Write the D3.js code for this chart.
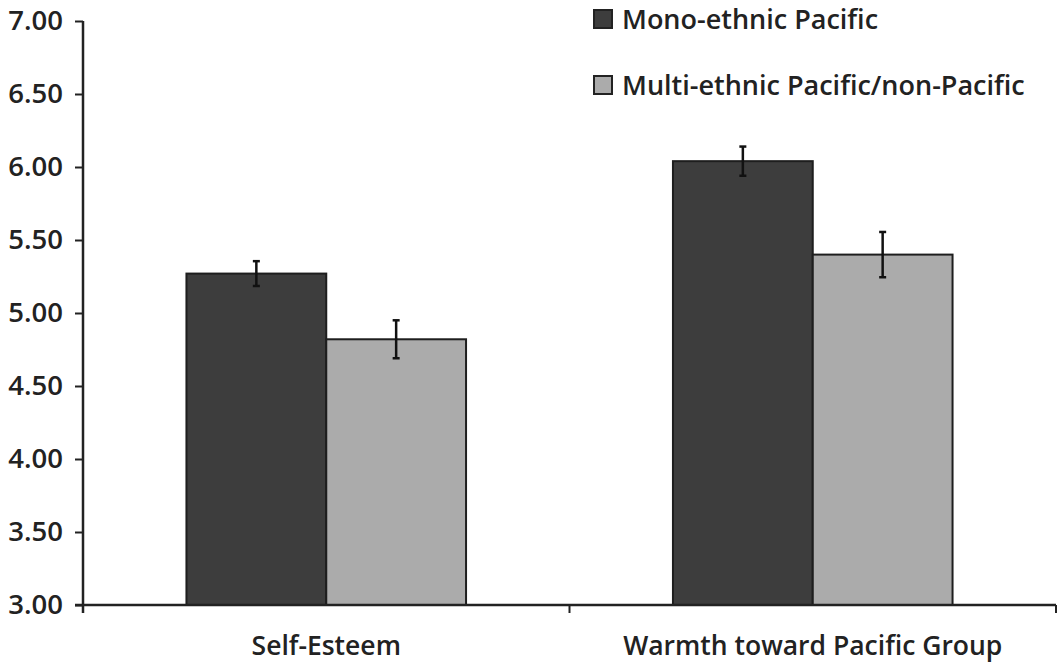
<!DOCTYPE html>
<html>
<head>
<meta charset="utf-8">
<script src="https://cdn.jsdelivr.net/npm/d3@7"></script>
<style>
  html, body { margin: 0; padding: 0; background: #fff; }
  svg { display: block; }
  text { font-family: "Open Sans", "DejaVu Sans", sans-serif; fill: #222; font-weight: 600; }
</style>
</head>
<body>
<svg id="chart" width="1058" height="662"></svg>
<script>
// Mean ratings with standard errors, by outcome and ethnic group
const categories = ["Self-Esteem", "Warmth toward Pacific Group"];
const seriesNames = ["Mono-ethnic Pacific", "Multi-ethnic Pacific/non-Pacific"];
const monoMeans = [5.27, 6.04];
const multiMeans = [4.82, 5.40];
const monoErrors = [0.085, 0.10];
const multiErrors = [0.13, 0.155];
const yTicks = [3.0, 3.5, 4.0, 4.5, 5.0, 5.5, 6.0, 6.5, 7.0];

const seriesFill = ["#3d3d3d", "#ababab"];

const svg = d3.select("#chart");
const margin = { left: 83, right: 2, top: 21, bottom: 57 };
const W = 1058, H = 662;

const x0 = d3.scaleBand()
  .domain(categories)
  .range([margin.left, W - margin.right])
  .paddingInner(0)
  .paddingOuter(0);

const x1 = d3.scaleBand()
  .domain(seriesNames)
  .range([0, x0.bandwidth()])
  .paddingInner(0)
  .paddingOuter(0.74);

const y = d3.scaleLinear()
  .domain([3, 7])
  .range([H - margin.bottom, margin.top]);

const rows = categories.map((c, i) => ({
  category: c,
  values: [
    { series: seriesNames[0], mean: monoMeans[i], se: monoErrors[i], fill: seriesFill[0] },
    { series: seriesNames[1], mean: multiMeans[i], se: multiErrors[i], fill: seriesFill[1] }
  ]
}));

// Bars
const groups = svg.append("g").selectAll("g")
  .data(rows)
  .join("g")
  .attr("transform", d => `translate(${x0(d.category)},0)`);

groups.selectAll("rect")
  .data(d => d.values)
  .join("rect")
  .attr("x", d => x1(d.series))
  .attr("y", d => y(d.mean))
  .attr("width", x1.bandwidth())
  .attr("height", d => y(3) - y(d.mean))
  .attr("fill", d => d.fill)
  .attr("stroke", "#1e1e1e")
  .attr("stroke-width", 2);

// Error bars
const eb = groups.selectAll("g.err")
  .data(d => d.values)
  .join("g")
  .attr("class", "err")
  .attr("stroke", "#111")
  .attr("stroke-width", 2.5);

const cx = d => x1(d.series) + x1.bandwidth() / 2;
eb.append("line")
  .attr("x1", cx).attr("x2", cx)
  .attr("y1", d => y(d.mean + d.se)).attr("y2", d => y(d.mean - d.se));
eb.append("line")
  .attr("x1", d => cx(d) - 3.5).attr("x2", d => cx(d) + 3.5)
  .attr("y1", d => y(d.mean + d.se)).attr("y2", d => y(d.mean + d.se));
eb.append("line")
  .attr("x1", d => cx(d) - 3.5).attr("x2", d => cx(d) + 3.5)
  .attr("y1", d => y(d.mean - d.se)).attr("y2", d => y(d.mean - d.se));

// Y axis
const yAxis = svg.append("g")
  .attr("transform", `translate(${margin.left},0)`)
  .call(d3.axisLeft(y).tickValues(yTicks).tickFormat(d3.format(".2f")).tickSize(8).tickPadding(12));
yAxis.select(".domain").attr("stroke", "#222").attr("stroke-width", 2.5).attr("d", `M0,${y(7)}V${y(3) + 8}`);
yAxis.selectAll(".tick line").attr("stroke", "#222").attr("stroke-width", 2);
yAxis.selectAll(".tick text").style("font-size", "27.5px").attr("fill", "#222");

// X axis: category boundaries as ticks
const xAxisG = svg.append("g").attr("transform", `translate(0,${y(3)})`);
xAxisG.append("line")
  .attr("x1", margin.left - 8).attr("x2", W - margin.right)
  .attr("stroke", "#222").attr("stroke-width", 2.5);
const boundaries = categories.map(c => x0(c) + x0.bandwidth());
xAxisG.selectAll("line.tk")
  .data(boundaries)
  .join("line")
  .attr("class", "tk")
  .attr("x1", d => d).attr("x2", d => d)
  .attr("y1", 0).attr("y2", 8)
  .attr("stroke", "#222").attr("stroke-width", 2);
xAxisG.selectAll("text")
  .data(categories)
  .join("text")
  .attr("x", d => x0(d) + x0.bandwidth() / 2)
  .attr("y", 50)
  .attr("text-anchor", "middle")
  .style("font-size", "26.5px")
  .text(d => d);

// Legend
const legend = svg.append("g").attr("transform", "translate(594,0)");
const li = legend.selectAll("g")
  .data(seriesNames)
  .join("g")
  .attr("transform", (d, i) => `translate(0,${10 + i * 66})`);
li.append("rect")
  .attr("width", 18).attr("height", 18)
  .attr("fill", (d, i) => seriesFill[i])
  .attr("stroke", "#222").attr("stroke-width", 2);
li.append("text")
  .attr("x", 28).attr("y", 19)
  .style("font-size", "27px")
  .text(d => d);
</script>
</body>
</html>
